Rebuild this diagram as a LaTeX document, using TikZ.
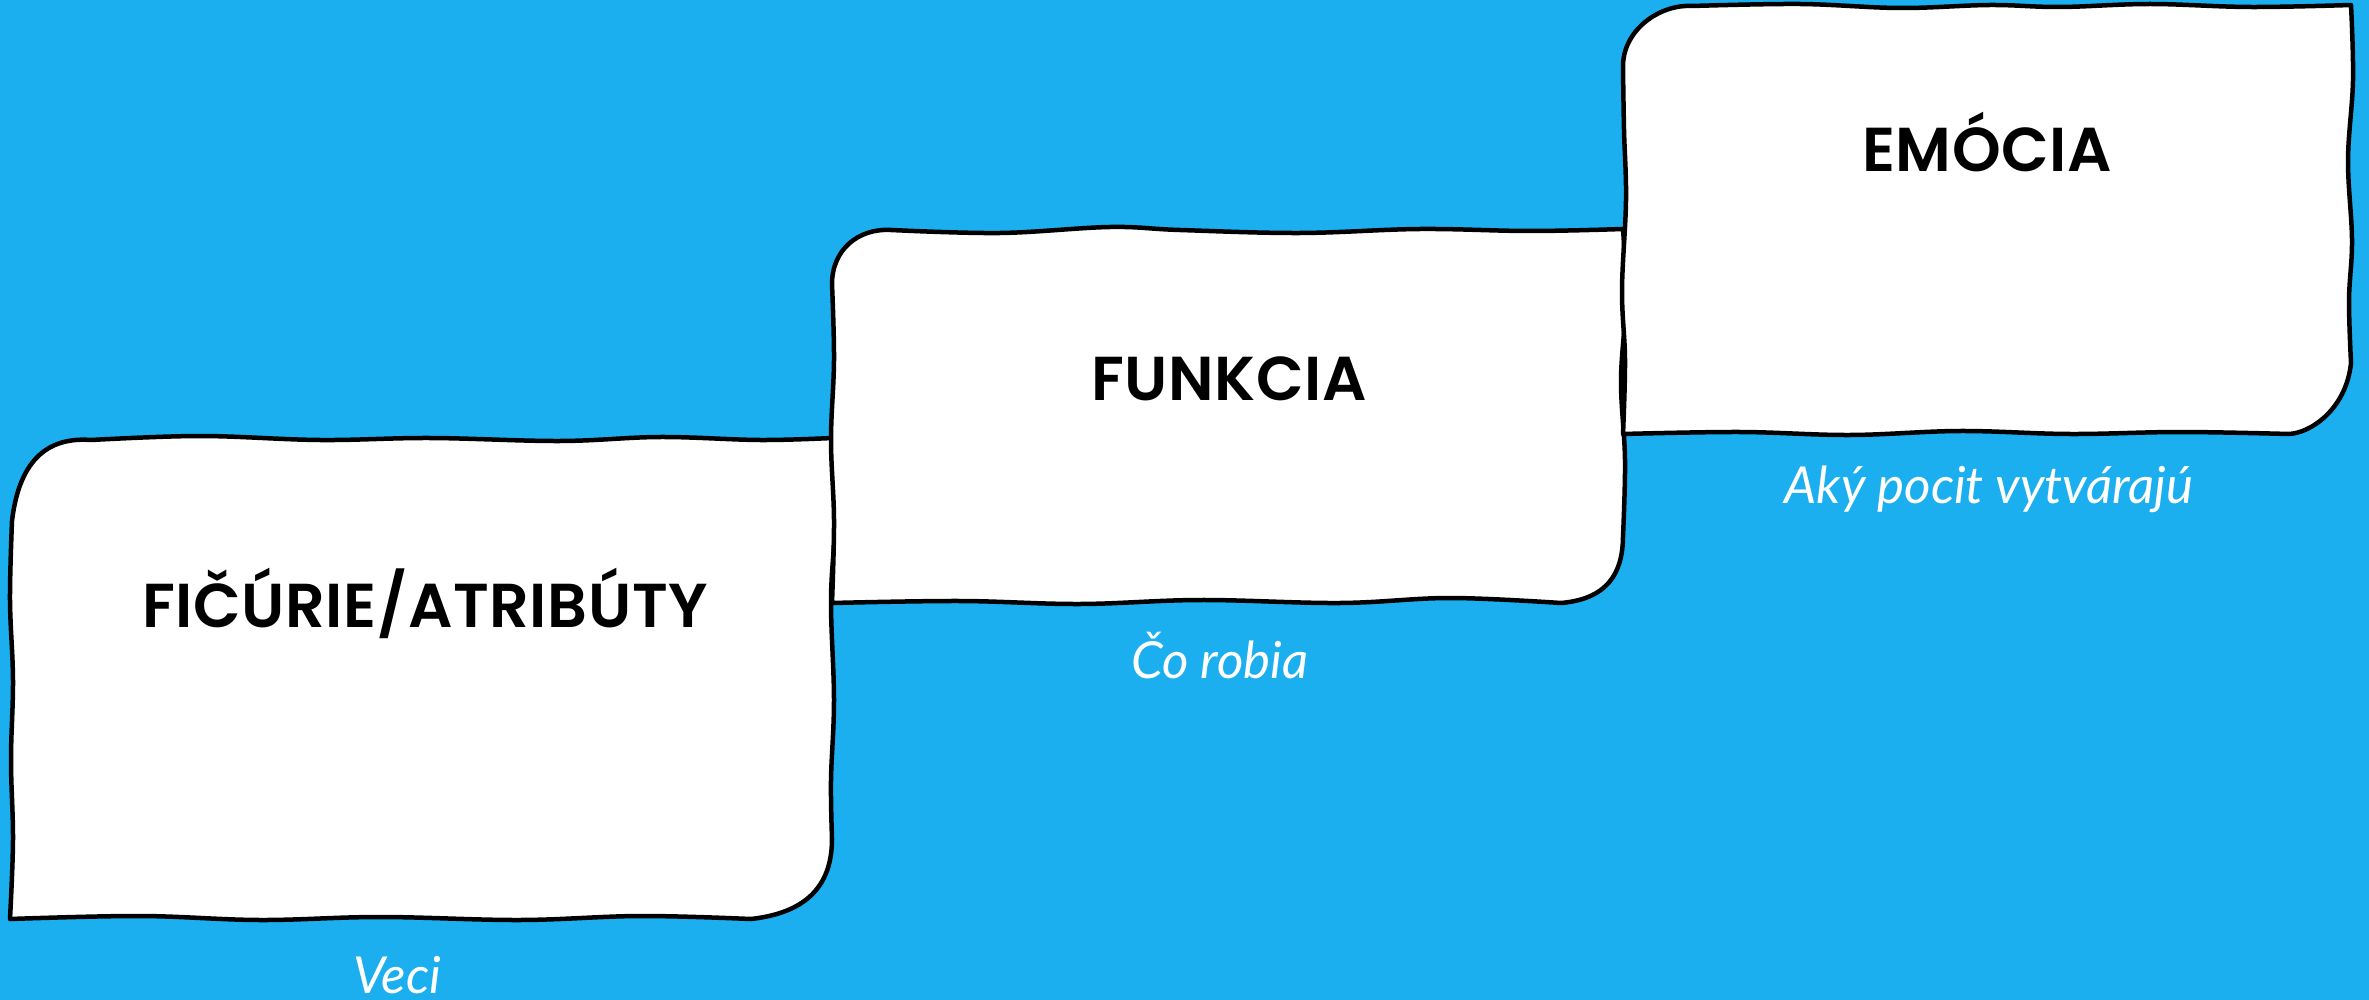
\documentclass[tikz,border=0pt]{standalone}
\usepackage{fontspec}
\IfFontExistsTF{Poppins SemiBold}{\newfontfamily\headfont{Poppins SemiBold}[LetterSpace=1]\def\headweight{}}{\newfontfamily\headfont{Poppins}[LetterSpace=0]\def\headweight{\bfseries}}
\newfontfamily\labfont{Lato}
\definecolor{bgblue}{RGB}{28,175,239}
\tikzset{
  boxline/.style={draw=black,line width=4.5pt,fill=white,line join=round},
  title/.style={anchor=base,font=\headfont\headweight\fontsize{62}{62}\selectfont,text=black,inner sep=0pt},
  sublabel/.style={anchor=base,font=\labfont\itshape\fontsize{51}{51}\selectfont,text=white,inner sep=0pt}
}
\begin{document}
\begin{tikzpicture}[x=1pt,y=-1pt]
\useasboundingbox (0,0) rectangle (2369,1000);
\fill[bgblue] (0,0) rectangle (2369,1000);
% box 1
\path[boxline] (10,919) -- plot[smooth,tension=.6] coordinates {(10,919)(13,840)(11,760)(13,680)(10,600)(12,521)}
  .. controls (18,470) and (40,436) .. (91,440)
  -- plot[smooth,tension=.6] coordinates {(91,440)(200,436)(320,440)(430,438)(560,441)(660,437)(760,440)(832,438)}
  -- plot[smooth,tension=.6] coordinates {(832,438)(835,520)(831,600)(834,700)(831,780)(832,839)}
  .. controls (832,895) and (795,914) .. (751,919)
  -- plot[smooth,tension=.6] coordinates {(751,919)(640,916)(520,920)(380,917)(260,920)(140,916)(10,919)} -- cycle;
% box 2
\path[boxline] (832,603) -- plot[smooth,tension=.6] coordinates {(832,603)(834,520)(831,440)(834,360)(832,284)}
  .. controls (832,250) and (858,228) .. (891,230)
  -- plot[smooth,tension=.6] coordinates {(891,230)(1000,233)(1110,227)(1180,230)(1300,233)(1420,229)(1530,231)(1623,229)}
  -- plot[smooth,tension=.6] coordinates {(1623,229)(1626,300)(1621,380)(1625,460)(1623,536)}
  .. controls (1623,585) and (1595,600) .. (1561,603)
  -- plot[smooth,tension=.6] coordinates {(1561,603)(1450,598)(1340,603)(1200,600)(1080,604)(960,601)(832,603)} -- cycle;
% box 3
\path[boxline] (1623,434) -- plot[smooth,tension=.6] coordinates {(1623,434)(1625,360)(1622,290)(1626,200)(1624,130)(1623,68)}
  .. controls (1622,30) and (1660,4) .. (1692,6)
  -- plot[smooth,tension=.6] coordinates {(1692,6)(1800,4)(1900,8)(1990,5)(2060,7)(2150,4)(2250,7)(2351,5)}
  -- plot[smooth,tension=.6] coordinates {(2351,5)(2353,80)(2348,160)(2352,240)(2349,300)(2351,363)}
  .. controls (2346,410) and (2310,433) .. (2289,434)
  -- plot[smooth,tension=.6] coordinates {(2289,434)(2180,432)(2070,434)(1960,431)(1850,435)(1740,432)(1623,434)} -- cycle;
% titles
\node[title] (t1) at (425,627) {FIČÚRIE/ATRIBÚTY};
\node[title] (t2) at (1229,400) {FUNKCIA};
\node[title] (t3) at (1987,172) {EMÓCIA};
% labels
\node[sublabel] (l1) at (397,993) {Veci};
\node[sublabel] (l2) at (1220,678) {Čo robia};
\node[sublabel] (l3) at (1989,503) {Aký pocit vytvárajú};
\end{tikzpicture}
\end{document}
